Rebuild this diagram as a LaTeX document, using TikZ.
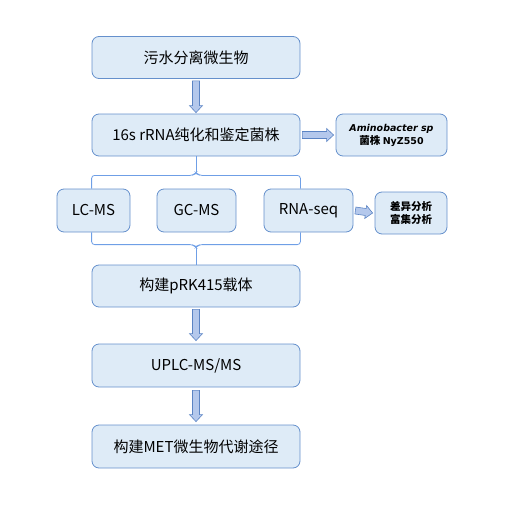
\documentclass[tikz,border=0pt]{standalone}
\usepackage{fontspec}
\setmainfont{Noto Sans CJK SC}
\newfontfamily\latinbold{DejaVu Sans}
\usetikzlibrary{calc,positioning}
\definecolor{boxfill}{HTML}{DEEBF7}
\definecolor{boxline}{HTML}{6590CC}
\definecolor{arrowfill}{HTML}{B4C8EC}
\definecolor{arrowline}{HTML}{5B84C4}
\definecolor{bracketline}{HTML}{6F9FE6}
\tikzset{
  stepbox/.style={draw=boxline, fill=boxfill, line width=0.8pt, rounded corners=7pt,
    minimum width=208pt, minimum height=42pt, font=\fontsize{15}{18}\selectfont},
  sidebox/.style={stepbox, minimum width=111pt, font=\fontsize{10.5}{13}\selectfont\bfseries, align=center},
  bracket/.style={draw=bracketline, line width=0.8pt},
  blockarr/.style={draw=arrowline, fill=arrowfill, line width=0.6pt, line join=miter,
    to path={($(\tikztostart)!3.5pt!90:(\tikztotarget)$)
      -- ($($(\tikztotarget)!7pt!(\tikztostart)$)!3.5pt!90:(\tikztotarget)$)
      -- ($($(\tikztotarget)!7pt!(\tikztostart)$)!6.5pt!90:(\tikztotarget)$)
      -- (\tikztotarget)
      -- ($($(\tikztotarget)!7pt!(\tikztostart)$)!6.5pt!-90:(\tikztotarget)$)
      -- ($($(\tikztotarget)!7pt!(\tikztostart)$)!3.5pt!-90:(\tikztotarget)$)
      -- ($(\tikztostart)!3.5pt!-90:(\tikztotarget)$) -- cycle}}
}
\begin{document}
\begin{tikzpicture}[x=1pt, y=-1pt]
  \useasboundingbox (0,0) rectangle (506,530);
  \node[stepbox] (dilute) at (196,57.5) {污水分离微生物};
  \node[stepbox] (strain) at (196,135) {16s rRNA纯化和鉴定菌株};
  \node[sidebox] (species) at (391.5,135) {{\latinbold\fontsize{9.5}{13}\selectfont\bfseries\itshape Aminobacter sp}\\菌株 {\latinbold\fontsize{9.5}{13}\selectfont\bfseries NyZ550}};
  \node[stepbox, minimum width=73pt, minimum height=43pt] (lcms) at (93.5,210.5) {LC-MS};
  \node[stepbox, minimum width=79pt, minimum height=43pt] (gcms) at (196.5,210.5) {GC-MS};
  \node[stepbox, minimum width=89pt, minimum height=43pt] (rnaseq) at (308.5,210.5) {RNA-seq};
  \node[sidebox, minimum width=72pt] (analysis) at (411,213) {差异分析\\富集分析};
  \node[stepbox] (vector) at (196,286) {构建pRK415载体};
  \node[stepbox, minimum height=43pt] (uplc) at (196,365.5) {UPLC-MS/MS};
  \node[stepbox, minimum height=43pt] (pathway) at (196,446.5) {构建MET微生物代谢途径};

  \draw[blockarr] ([yshift=-2pt]dilute.south) to ([yshift=1pt]strain.north);
  \draw[blockarr] ([xshift=2pt]strain.east) to ([xshift=-2pt]species.west);
  \draw[blockarr] ([xshift=2pt]rnaseq.east) to ([xshift=-2pt]analysis.west);
  \draw[blockarr] ([yshift=-2pt]vector.south) to ([yshift=3pt]uplc.north);
  \draw[blockarr] ([yshift=-3pt]uplc.south) to ([yshift=3pt]pathway.north);

  \draw[bracket] (strain.south) -- ++(0,16);
  \draw[bracket, rounded corners=3pt] (strain.south west |- lcms.north) |- ($(strain.south)+(-3,19)$)
    -- ($(strain.south)+(0,16)$) -- ($(strain.south)+(3,19)$) -| (strain.south east |- rnaseq.north);
  \draw[bracket] (vector.north) -- ++(0,-17);
  \draw[bracket, rounded corners=3pt] (strain.south west |- lcms.south) |- ($(vector.north)+(-3,-20)$)
    -- ($(vector.north)+(0,-17)$) -- ($(vector.north)+(3,-20)$) -| (strain.south east |- rnaseq.south);
\end{tikzpicture}
\end{document}
